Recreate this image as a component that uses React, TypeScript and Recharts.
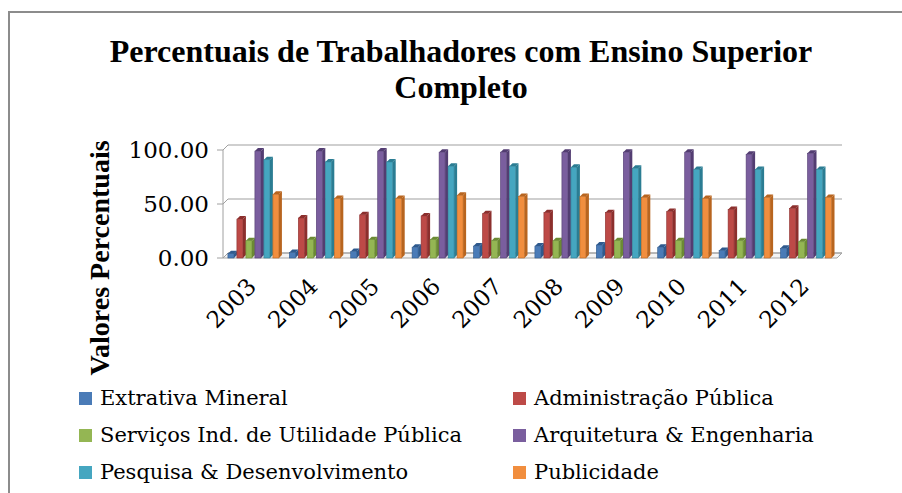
import { BarChart, Bar, XAxis, YAxis, CartesianGrid } from 'recharts'

const years = ['2003', '2004', '2005', '2006', '2007', '2008', '2009', '2010', '2011', '2012']
const extrativa = [4, 5, 6, 10, 11, 11, 12, 10, 7, 9]
const administracao = [36, 37, 40, 39, 41, 42, 42, 43, 45, 46]
const servicos = [16, 17, 17, 17, 16, 16, 16, 16, 16, 15]
const arquitetura = [99, 99, 99, 98, 98, 98, 98, 98, 96, 97]
const pesquisa = [91, 89, 89, 85, 85, 84, 83, 82, 82, 82]
const publicidade = [59, 55, 55, 58, 57, 57, 56, 55, 56, 56]
const yTicks = [0, 50, 100]

const series = [
  { key: 'extrativa', name: 'Extrativa Mineral', color: '#4a7bb7', side: '#2f5a8e' },
  { key: 'administracao', name: 'Administração Pública', color: '#bd4a47', side: '#8c2f2d' },
  { key: 'servicos', name: 'Serviços Ind. de Utilidade Pública', color: '#94b653', side: '#6b8a33' },
  { key: 'arquitetura', name: 'Arquitetura & Engenharia', color: '#7a5e9e', side: '#533d72' },
  { key: 'pesquisa', name: 'Pesquisa & Desenvolvimento', color: '#45a6c0', side: '#2b7d93' },
  { key: 'publicidade', name: 'Publicidade', color: '#f18e3e', side: '#b8651f' },
]

const data = years.map((year, i) => ({
  year,
  extrativa: extrativa[i],
  administracao: administracao[i],
  servicos: servicos[i],
  arquitetura: arquitetura[i],
  pesquisa: pesquisa[i],
  publicidade: publicidade[i],
}))

// bold Times-like face is available; the regular text falls back to DejaVu Serif
const TITLE_FONT = '"Liberation Serif", "Times New Roman", serif'
const TEXT_FONT = '"DejaVu Serif", serif'
const DX = 5
const DY = -5
const D = 3

function makeBox(color: string, side: string) {
  return (p: any) => {
    const { x, y, width, height } = p
    if (height == null || width == null) return <g />
    const fw = width - D
    const bottom = y + height
    return (
      <g>
        <polygon
          points={`${x + fw},${y} ${x + width},${y - D} ${x + width},${bottom - D} ${x + fw},${bottom}`}
          fill={side}
        />
        <polygon
          points={`${x},${y} ${x + D},${y - D} ${x + width},${y - D} ${x + fw},${y}`}
          fill={side}
        />
        <rect x={x} y={y} width={fw} height={height} fill={color} stroke={side} strokeWidth={0.6} />
      </g>
    )
  }
}

function backGrid(p: any) {
  const { x1, x2, y1, index } = p
  const floor = index === 0 || y1 > 250
  return (
    <g key={`g-${y1}`}>
      {floor && (
        <polygon
          points={`${x1},${y1} ${x2},${y1} ${x2 + DX},${y1 + DY} ${x1 + DX},${y1 + DY}`}
          fill="#f4f4f4"
          stroke="#a6a6a6"
          strokeWidth={1}
        />
      )}
      <line x1={x1 + DX} y1={y1 + DY} x2={x2 + DX} y2={y1 + DY} stroke="#a0a0a0" strokeWidth={1.2} />
      <line x1={x1} y1={y1} x2={x1 + DX} y2={y1 + DY} stroke="#a0a0a0" strokeWidth={1} />
    </g>
  )
}

function YearTick(p: any) {
  const { x, y, payload } = p
  const tx = x + 4
  const ty = y + 22
  return (
    <text
      x={tx}
      y={ty}
      transform={`rotate(-45 ${tx} ${ty})`}
      textAnchor="end"
      fontFamily={TEXT_FONT}
      fontSize={23}
      fill="#000"
    >
      {payload.value}
    </text>
  )
}

export default function App() {
  return (
    <div style={{ position: 'absolute', left: 0, top: 0, width: 902, height: 493, overflow: 'hidden', background: '#fff', fontFamily: TITLE_FONT }}>
      <div style={{ position: 'absolute', left: 8, top: 11, width: 1000, height: 600, border: '2px solid #8c8c8c', boxSizing: 'border-box' }} />
      <div style={{ position: 'absolute', left: 0, width: 922, top: 33, textAlign: 'center', fontWeight: 'bold', fontSize: 32, lineHeight: '36px', color: '#000' }}>
        Percentuais de Trabalhadores com Ensino Superior
        <br />
        Completo
      </div>
      <div
        style={{
          position: 'absolute', left: 100, top: 258, transform: 'translate(-50%, -50%) rotate(-90deg)',
          whiteSpace: 'nowrap', fontWeight: 'bold', fontSize: 28, color: '#000',
        }}
      >
        Valores Percentuais
      </div>
      <div style={{ position: 'absolute', left: 0, top: 0 }}>
        <BarChart
          width={902}
          height={493}
          data={data}
          margin={{ top: 150, right: 65, bottom: 175, left: 103 }}
          barCategoryGap="8%"
          barGap={0}
        >
          <CartesianGrid vertical={false} horizontal={backGrid} />
          <XAxis dataKey="year" axisLine={false} tickLine={false} height={60} tick={<YearTick />} interval={0} />
          <YAxis
            width={120}
            domain={[0, 100]}
            ticks={yTicks}
            tickFormatter={(v: number) => v.toFixed(2)}
            tick={{ fill: '#000', fontSize: 23, fontFamily: TEXT_FONT }}
            axisLine={{ stroke: '#a0a0a0' }}
            tickLine={{ stroke: '#a0a0a0' }}
            tickSize={6}
            tickMargin={8}
          />
          {series.map((s) => (
            <Bar key={s.key} dataKey={s.key} name={s.name} fill={s.color} shape={makeBox(s.color, s.side)} isAnimationActive={false} />
          ))}
        </BarChart>
      </div>
      {series.map((s, i) => {
        const col = i % 2
        const row = Math.floor(i / 2)
        return (
          <div
            key={s.key}
            style={{
              position: 'absolute', left: col === 0 ? 79 : 513, top: 380 + row * 37, height: 36,
              display: 'flex', alignItems: 'center', fontSize: 21, color: '#000', whiteSpace: 'nowrap',
              fontFamily: TEXT_FONT,
            }}
          >
            <span style={{ display: 'inline-block', width: 13, height: 13, background: s.color, marginRight: 8 }} />
            {s.name}
          </div>
        )
      })}
    </div>
  )
}
